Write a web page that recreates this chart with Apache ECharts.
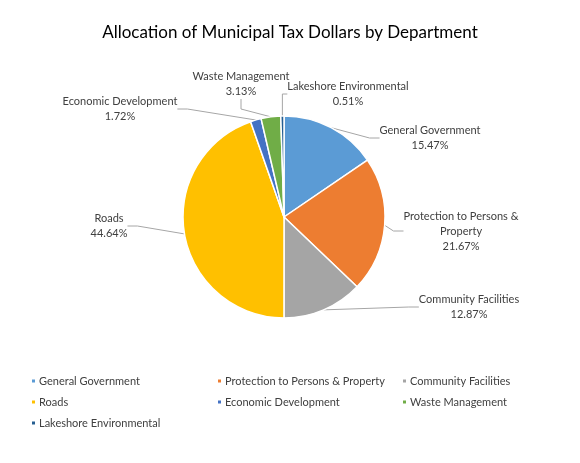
<!DOCTYPE html>
<html>
<head>
<meta charset="utf-8">
<script src="https://cdn.jsdelivr.net/npm/echarts@6/dist/echarts.min.js"></script>
<style>
  html, body { margin: 0; padding: 0; background: #fff; }
  #chart { width: 580px; height: 463px; }
</style>
</head>
<body>
<div id="chart"></div>
<script>
var departments = ['General Government', 'Protection to Persons & Property', 'Community Facilities',
    'Roads', 'Economic Development', 'Waste Management', 'Lakeshore Environmental'];
var shares = [15.47, 21.67, 12.87, 44.64, 1.72, 3.13, 0.51];
var sliceColors = ['#5B9BD5', '#ED7D31', '#A5A5A5', '#FFC000', '#4472C4', '#70AD47', '#255E91'];
// label text shown next to each slice (name wrapped like the original)
var labelNames = ['General Government', 'Protection to Persons &\nProperty', 'Community Facilities',
    'Roads', 'Economic Development', 'Waste Management', 'Lakeshore Environmental'];
// label centres [x, y]
var labelSpots = [[430, 138], [461, 231], [469, 307], [109, 226], [120, 109], [241, 84], [348, 94]];

var font = 'Lato, "Open Sans", sans-serif';
var chart = echarts.init(document.getElementById('chart'));

function legendCol(left, names) {
    return {
        orient: 'vertical',
        left: left,
        top: 369,
        itemWidth: 5,
        itemHeight: 5,
        itemGap: 7,
        icon: 'rect',
        data: names,
        textStyle: { fontFamily: font, fontSize: 11, color: '#404040', lineHeight: 14, padding: [0, 0, 0, -2] }
    };
}

var option = {
    animation: false,
    color: sliceColors,
    title: {
        text: 'Allocation of Municipal Tax Dollars by Department',
        left: 'center',
        top: 19,
        textStyle: { fontFamily: font, fontSize: 17, fontWeight: 'normal', color: '#000' }
    },
    legend: [
        legendCol(25, [departments[0], departments[3], departments[6]]),
        legendCol(211, [departments[1], departments[4]]),
        legendCol(396, [departments[2], departments[5]])
    ],
    series: [{
        type: 'pie',
        center: [284, 217],
        radius: 101,
        startAngle: 90,
        clockwise: true,
        itemStyle: { borderColor: '#fff', borderWidth: 1.5 },
        label: {
            show: true,
            fontFamily: font,
            fontSize: 11,
            color: '#404040',
            lineHeight: 15,
            align: 'center',
            formatter: function (p) { return labelNames[p.dataIndex] + '\n' + p.value.toFixed(2) + '%'; }
        },
        labelLine: { show: true, length: 10, length2: 10, lineStyle: { color: '#A6A6A6', width: 1 } },
        labelLayout: function (p) {
            var s = labelSpots[p.dataIndex];
            return { x: s[0], y: s[1], align: 'center', verticalAlign: 'middle' };
        },
        data: departments.map(function (d, i) { return { name: d, value: shares[i] }; })
    }]
};
chart.setOption(option);
</script>
</body>
</html>
